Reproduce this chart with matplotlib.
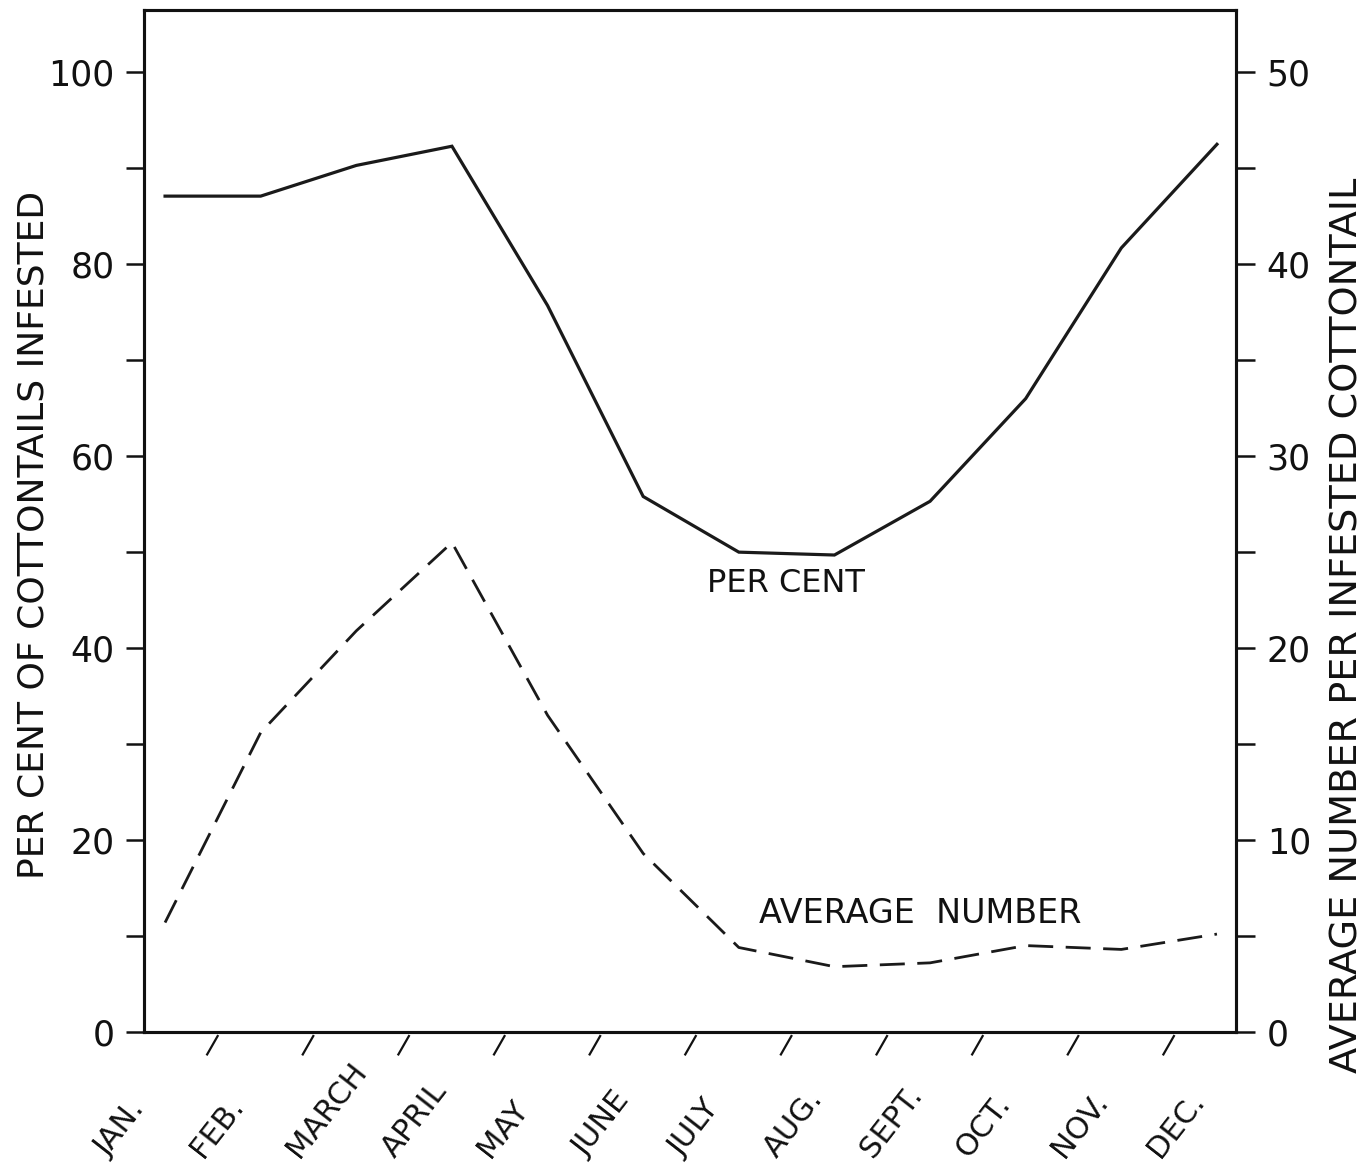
import matplotlib
matplotlib.use("Agg")
import matplotlib.pyplot as plt
import matplotlib.transforms as mtransforms
import numpy as np

months = ["JAN.", "FEB.", "MARCH", "APRIL", "MAY", "JUNE",
          "JULY", "AUG.", "SEPT.", "OCT.", "NOV.", "DEC."]
per_cent = [87.1, 87.1, 90.3, 92.3, 75.7, 55.8, 50.0, 49.7, 55.3, 66.0, 81.7, 92.5]
avg_number = [5.7, 15.6, 20.9, 25.5, 16.5, 9.3, 4.4, 3.4, 3.6, 4.5, 4.3, 5.1]
left_ticks = list(range(0, 101, 10))
right_ticks = list(range(0, 51, 5))

plt.rcParams['font.family'] = ['DejaVu Sans']

fig = plt.figure(figsize=(13.69, 11.72), dpi=100)
ax = fig.add_axes([0.1052, 0.1195, 0.7977, 0.872])
x = np.arange(len(months))

ax.plot(x, per_cent, color="#1a1a1a", lw=2.3, solid_joinstyle="miter")
ax.set_xlim(-0.22, 11.2)
ax.set_ylim(0, 106.5)

ax2 = ax.twinx()
ax2.plot(x, avg_number, color="#1a1a1a", lw=2.0, dashes=(9, 4.5))
ax2.set_ylim(0, 53.25)

for a in (ax, ax2):
    for s in a.spines.values():
        s.set_linewidth(2.2)
        s.set_color("#111111")

# left axis ticks, labels every 20
ax.set_yticks(left_ticks)
ax.set_yticklabels([str(t) if t % 20 == 0 else "" for t in left_ticks])
ax.tick_params(axis="y", direction="out", length=13, width=1.8, labelsize=25, pad=8, colors="#111111")
ax.set_ylabel("PER CENT OF COTTONTAILS INFESTED", fontsize=26, color="#111111")
ax.yaxis.set_label_coords(-0.086, 0.486)

# right axis ticks, labels every 10
ax2.set_yticks(right_ticks)
ax2.set_yticklabels([str(t) if t % 10 == 0 else "" for t in right_ticks])
ax2.tick_params(axis="y", direction="out", length=14, width=1.8, labelsize=25, pad=8, colors="#111111")
ax2.set_ylabel("AVERAGE NUMBER PER INFESTED COTTONTAIL", fontsize=27.5, color="#111111",
               rotation=90)
ax2.yaxis.set_label_coords(1.086, 0.398)

# slanted separators between months instead of normal x ticks
ax.set_xticks([])
trans = mtransforms.blended_transform_factory(ax.transData, ax.transAxes)
for xm in x[:-1] + 0.5:
    ax.plot([xm + 0.05, xm - 0.06], [-0.004, -0.022], color="#111111", lw=1.6,
            transform=trans, clip_on=False)

# rotated month names
for xm, name in zip(x, months):
    ax.text(xm - 0.6, -0.124, name, transform=trans, rotation=52,
            rotation_mode="anchor", ha="left", va="baseline", fontsize=22,
            color="#111111")

ax.text(6.49, 46.7, "PER CENT", ha="center", va="center", fontsize=23, color="#111111")
ax.text(7.9, 12.3, "AVERAGE  NUMBER", ha="center", va="center", fontsize=24, color="#111111")

fig.savefig("out.png", dpi=100, facecolor="white")
